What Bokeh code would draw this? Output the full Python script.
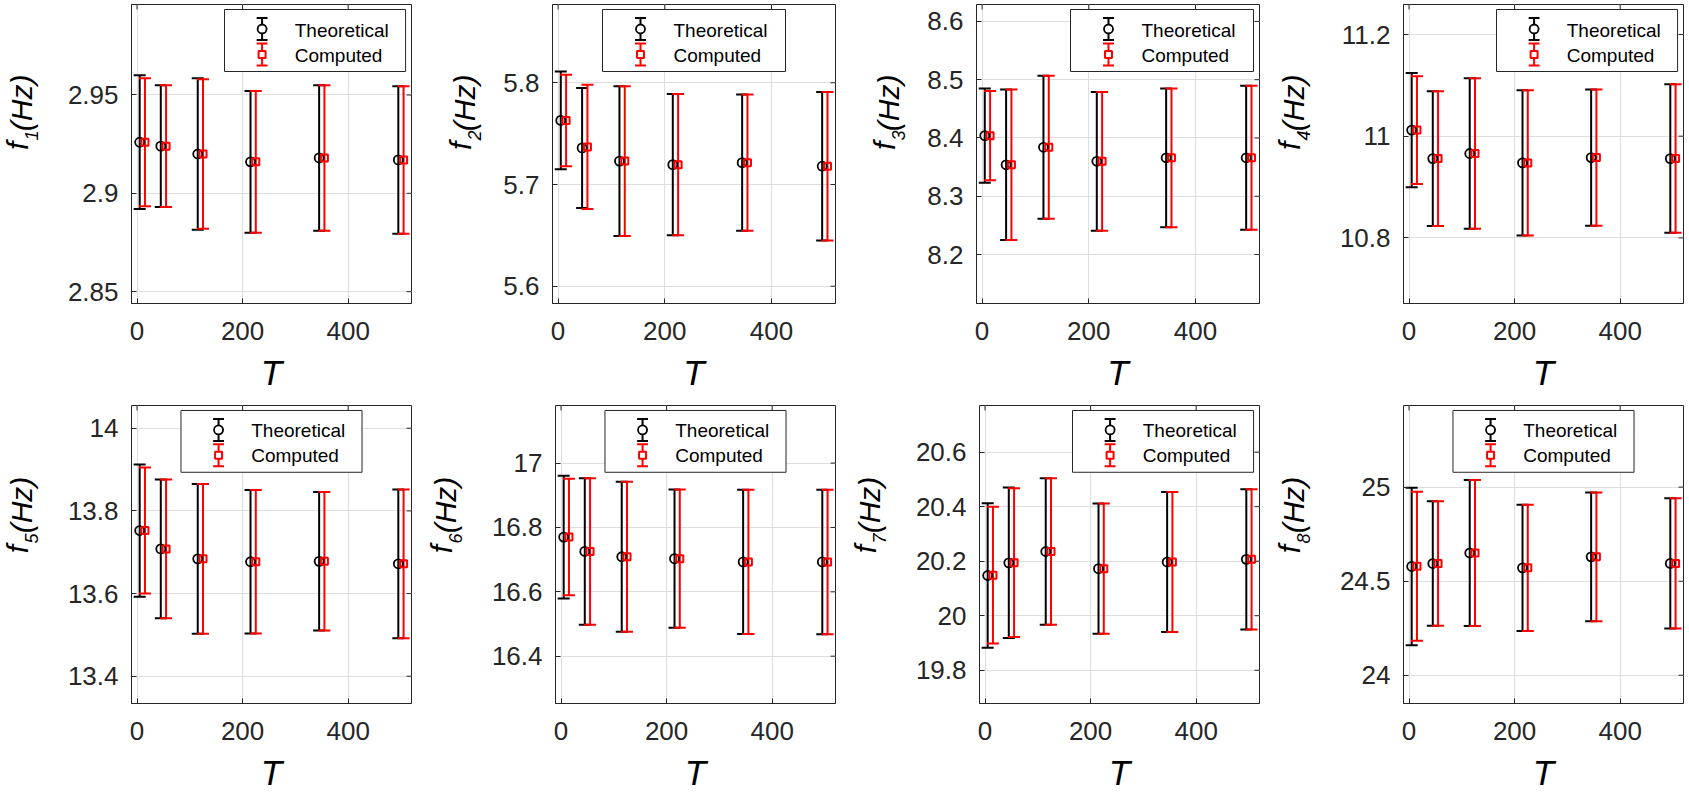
import math
from bokeh.plotting import figure
from bokeh.models import (Range1d, FixedTicker, CustomJSTickFormatter, Whisker,
                          TeeHead, ColumnDataSource)
from bokeh.layouts import row, column
from bokeh.embed import file_html
from bokeh.resources import INLINE
from bokeh.core.properties import value

FONT = "Liberation Sans"
INK = "#262626"
GRID = "#dedede"
RED = "#ff0000"

# Temperature levels (x axis) and tick marks
T = [10, 50, 120, 220, 350, 500]
x_ticks = [0, 200, 400]

# Natural frequencies: mean and one-sigma spread, theoretical vs computed
f1_theo = [2.926, 2.924, 2.920, 2.916, 2.918, 2.917]
f1_theo_sd = [0.034, 0.031, 0.0385, 0.036, 0.037, 0.0375]
f1_comp = [2.926, 2.924, 2.920, 2.916, 2.918, 2.917]
f1_comp_sd = [0.0325, 0.031, 0.038, 0.036, 0.037, 0.0375]
f1_ylim = [2.844, 2.996]
f1_yticks = [2.85, 2.9, 2.95]

f2_theo = [5.763, 5.736, 5.723, 5.7195, 5.7215, 5.718]
f2_theo_sd = [0.048, 0.059, 0.0736, 0.0694, 0.067, 0.073]
f2_comp = [5.763, 5.737, 5.723, 5.7195, 5.7215, 5.718]
f2_comp_sd = [0.045, 0.061, 0.0736, 0.0694, 0.067, 0.073]
f2_ylim = [5.583, 5.877]
f2_yticks = [5.6, 5.7, 5.8]

f3_theo = [8.404, 8.354, 8.384, 8.360, 8.366, 8.366]
f3_theo_sd = [0.081, 0.129, 0.1227, 0.119, 0.119, 0.1235]
f3_comp = [8.404, 8.354, 8.384, 8.360, 8.366, 8.366]
f3_comp_sd = [0.0765, 0.129, 0.1227, 0.119, 0.119, 0.1235]
f3_ylim = [8.116, 8.629]
f3_yticks = [8.2, 8.3, 8.4, 8.5, 8.6]

f4_theo = [11.012, 10.956, 10.966, 10.9475, 10.958, 10.956]
f4_theo_sd = [0.1125, 0.1325, 0.148, 0.143, 0.134, 0.146]
f4_comp = [11.012, 10.956, 10.966, 10.9475, 10.958, 10.956]
f4_comp_sd = [0.106, 0.1325, 0.148, 0.143, 0.134, 0.146]
f4_ylim = [10.671, 11.259]
f4_yticks = [10.8, 11.0, 11.2]

f5_theo = [13.7525, 13.708, 13.684, 13.677, 13.678, 13.672]
f5_theo_sd = [0.160, 0.168, 0.181, 0.1735, 0.1675, 0.180]
f5_comp = [13.7525, 13.708, 13.684, 13.677, 13.678, 13.672]
f5_comp_sd = [0.1525, 0.168, 0.181, 0.1735, 0.1675, 0.180]
f5_ylim = [13.334, 14.055]
f5_yticks = [13.4, 13.6, 13.8, 14.0]

f6_theo = [16.770, 16.7255, 16.709, 16.703, 16.693, 16.693]
f6_theo_sd = [0.191, 0.2275, 0.233, 0.215, 0.224, 0.2245]
f6_comp = [16.770, 16.7255, 16.709, 16.703, 16.693, 16.693]
f6_comp_sd = [0.181, 0.2275, 0.233, 0.215, 0.224, 0.2245]
f6_ylim = [16.253, 17.179]
f6_yticks = [16.4, 16.6, 16.8, 17.0]

f7_theo = [20.1475, 20.194, 20.2355, 20.1725, 20.197, 20.2067]
f7_theo_sd = [0.265, 0.276, 0.2688, 0.2387, 0.257, 0.257]
f7_comp = [20.1487, 20.1946, 20.2355, 20.1725, 20.197, 20.2067]
f7_comp_sd = [0.2505, 0.273, 0.2688, 0.2387, 0.257, 0.257]
f7_ylim = [19.678, 20.771]
f7_yticks = [19.8, 20.0, 20.2, 20.4, 20.6]

f8_theo = [24.5787, 24.594, 24.650, 24.571, 24.6295, 24.5947]
f8_theo_sd = [0.4185, 0.331, 0.3875, 0.336, 0.342, 0.346]
f8_comp = [24.5795, 24.594, 24.650, 24.571, 24.6295, 24.5947]
f8_comp_sd = [0.3965, 0.331, 0.3875, 0.336, 0.342, 0.346]
f8_ylim = [23.85, 25.434]
f8_yticks = [24.0, 24.5, 25.0]

legend_labels = ["Theoretical", "Computed"]

modes = [
    (1, f1_theo, f1_theo_sd, f1_comp, f1_comp_sd, f1_ylim, f1_yticks, "ne"),
    (2, f2_theo, f2_theo_sd, f2_comp, f2_comp_sd, f2_ylim, f2_yticks, "n"),
    (3, f3_theo, f3_theo_sd, f3_comp, f3_comp_sd, f3_ylim, f3_yticks, "ne"),
    (4, f4_theo, f4_theo_sd, f4_comp, f4_comp_sd, f4_ylim, f4_yticks, "ne"),
    (5, f5_theo, f5_theo_sd, f5_comp, f5_comp_sd, f5_ylim, f5_yticks, "n"),
    (6, f6_theo, f6_theo_sd, f6_comp, f6_comp_sd, f6_ylim, f6_yticks, "n"),
    (7, f7_theo, f7_theo_sd, f7_comp, f7_comp_sd, f7_ylim, f7_yticks, "ne"),
    (8, f8_theo, f8_theo_sd, f8_comp, f8_comp_sd, f8_ylim, f8_yticks, "n"),
]

X_LO, X_HI = -10.5, 520.0
FW, FH = 283, 299          # plot frame size in px
LAB_W = 64                 # strip holding the rotated y label
AX_W = 64                  # left border of each panel (y tick labels)
TICK_PX = 26               # tick label font size
SHIFT = 5                  # horizontal separation of the two series (data units)


def fmt(v):
    return "%g" % v


def label_width(s, size):
    return sum(0.278 if ch == "." else 0.556 for ch in s) * size


def borders(col, row_i):
    right = 6 if col == 3 else 13
    top = 4 if row_i == 0 else 2
    bottom = 100 if row_i == 0 else 90
    return right, top, bottom


def make_ylabel(spec, col, row_i):
    """Narrow strip with the rotated label  f_k (Hz)."""
    k, yticks = spec[0], spec[6]
    right, top, bottom = borders(col, row_i)
    H = top + FH + bottom
    p = figure(width=LAB_W, height=H, x_range=Range1d(0, LAB_W),
               y_range=Range1d(H, 0), output_backend="svg",
               toolbar_location=None, min_border=0,
               x_axis_type=None, y_axis_type=None, outline_line_color=None,
               background_fill_color="white", border_fill_color="white")
    p.grid.visible = False
    tw = max(label_width(fmt(v), TICK_PX) for v in yticks)
    cx = LAB_W + AX_W - (tw * 1.3 + 41)     # centre line of the main text
    cy = top + FH / 2                       # vertical centre of the frame
    xs = [cx - 4, cx + 10, cx]
    ys = [cy + 37, cy + 23, cy - 21]
    texts = ["f", str(k), "(Hz)"]
    sizes = ["30px", "18px", "30px"]
    src = ColumnDataSource(dict(x=xs, y=ys, text=texts, size=sizes))
    p.text(x="x", y="y", text="text", source=src, angle=math.pi / 2,
           text_font=value(FONT), text_font_size="size",
           text_font_style="italic", text_align="center",
           text_baseline="middle", text_color="black")
    return p


def make_panel(spec, col, row_i):
    k, theo, theo_sd, comp, comp_sd, ylim, yticks, loc = spec
    y0, y1 = ylim
    right, top, bottom = borders(col, row_i)

    p = figure(width=AX_W + FW + right, height=top + FH + bottom,
               x_range=Range1d(X_LO, X_HI), y_range=Range1d(y0, y1),
               output_backend="svg", toolbar_location=None,
               min_border_left=AX_W, min_border_right=right,
               min_border_top=top, min_border_bottom=bottom,
               outline_line_color=INK, outline_line_width=1,
               background_fill_color="white", border_fill_color="white")

    # pixel offsets (from frame top-left) to data coordinates
    def px(d):
        return X_LO + d * (X_HI - X_LO) / FW

    def py(d):
        return y1 - d * (y1 - y0) / FH

    p.xaxis.ticker = FixedTicker(ticks=x_ticks)
    p.yaxis.ticker = FixedTicker(ticks=yticks)
    p.yaxis.formatter = CustomJSTickFormatter(
        code="return String(Number(tick.toPrecision(6)));")
    for ax in p.axis:
        ax.major_tick_in = 5
        ax.major_tick_out = 0
        ax.minor_tick_line_color = None
        ax.axis_line_color = INK
        ax.major_tick_line_color = INK
        ax.major_label_text_font = FONT
        ax.major_label_text_font_size = "%dpx" % TICK_PX
        ax.major_label_text_color = INK
    p.xaxis.major_label_standoff = 18
    p.yaxis.major_label_standoff = 13
    p.xaxis.axis_label = "T"
    p.xaxis.axis_label_text_font = FONT
    p.xaxis.axis_label_text_font_size = "35px"
    p.xaxis.axis_label_text_font_style = "italic"
    p.xaxis.axis_label_text_color = "black"
    p.xaxis.axis_label_standoff = 10
    p.grid.grid_line_color = GRID
    p.grid.grid_line_width = 1

    # mirrored ticks on the top and right edges of the box
    p.segment(x0=x_ticks, x1=x_ticks, y0=[py(0)] * len(x_ticks),
              y1=[py(5)] * len(x_ticks), line_color=INK, line_width=1)
    p.segment(x0=[px(FW)] * len(yticks), x1=[px(FW - 5)] * len(yticks),
              y0=yticks, y1=yticks, line_color=INK, line_width=1)

    # error bars
    for means, sds, dx, color in ((theo, theo_sd, -SHIFT, "black"),
                                  (comp, comp_sd, SHIFT, RED)):
        src = ColumnDataSource(dict(
            base=[t + dx for t in T],
            lower=[m - s for m, s in zip(means, sds)],
            upper=[m + s for m, s in zip(means, sds)]))
        w = Whisker(source=src, base="base", lower="lower", upper="upper",
                    dimension="height", line_color=color, line_width=2,
                    upper_head=TeeHead(size=12, line_color=color, line_width=2),
                    lower_head=TeeHead(size=12, line_color=color, line_width=2))
        p.add_layout(w)

    p.scatter([t - SHIFT for t in T], theo, marker="circle", size=9,
              line_color="black", line_width=1.8, fill_color=None)
    p.scatter([t + SHIFT for t in T], comp, marker="square", size=7,
              line_color=RED, line_width=2, fill_color=None)

    # legend box
    LW, LH = 183, 62
    bx = FW - 6 - LW if loc == "ne" else (FW - LW) / 2
    by = 5
    p.quad(left=[px(bx)], right=[px(bx + LW)], top=[py(by)], bottom=[py(by + LH)],
           fill_color="white", line_color=INK, line_width=1)
    icon_x = bx + 38
    for rc, color, marker, msize in ((19.5, "black", "circle", 9),
                                     (45, RED, "square", 7)):
        xi = px(icon_x)
        p.segment(x0=[xi], x1=[xi], y0=[py(by + rc - 11)], y1=[py(by + rc + 11)],
                  line_color=color, line_width=2)
        p.segment(x0=[px(icon_x - 5.5)] * 2, x1=[px(icon_x + 5.5)] * 2,
                  y0=[py(by + rc - 11), py(by + rc + 11)],
                  y1=[py(by + rc - 11), py(by + rc + 11)],
                  line_color=color, line_width=2)
        p.scatter([xi], [py(by + rc)], marker=marker, size=msize,
                  line_color=color, line_width=1.8 if marker == "circle" else 2,
                  fill_color="white")
    p.text(x=[px(bx + 71)] * 2, y=[py(by + 20.5), py(by + 45.5)],
           text=legend_labels, text_font=value(FONT), text_font_size="19px",
           text_baseline="middle", text_align="left", text_color="black")
    return p


rows = []
for r in range(2):
    items = []
    for c in range(4):
        spec = modes[r * 4 + c]
        items.append(make_ylabel(spec, c, r))
        items.append(make_panel(spec, c, r))
    rows.append(row(*items))
layout = column(*rows)

open("out.html", "w").write(file_html(layout, INLINE))
